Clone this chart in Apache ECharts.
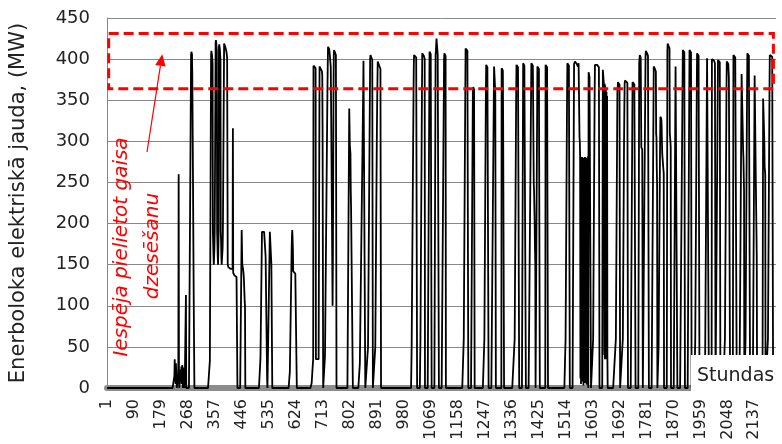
<!DOCTYPE html>
<html>
<head>
<meta charset="utf-8">
<script src="https://cdn.jsdelivr.net/npm/echarts@6/dist/echarts.min.js"></script>
<style>
html,body{margin:0;padding:0;background:#fff;}
#c{width:782px;height:444px;}
</style>
</head>
<body>
<div id="c"></div>
<script>
// Total hours on the axis (92 days x 24 h)
const totalHours = 2208;
// Tick label step (Excel category label interval)
const labelStep = 89;
const yTicks = [0, 50, 100, 150, 200, 250, 300, 350, 400, 450];

// Operating blocks: [first hour, hourly MW values...]; all other hours are 0
const blocksJune = [
  [223, [15,35,8,28,5,30,18,8,0,0,0,0,12,30,260,20,0,0,0,0,0,22,10,26,5,22,28,12,0,0,0,20,25,8,0,0,0,0,113]],
  [278, [405,409,408,406,380,330,270,210,150,95,45]],
  [340, [33,33,33,33, 405,410,408,405,400,395, 190,175,160,150,150,170,190,190,190, 420,423,420,415,410,
         190,175,160,150,150,190, 415,418,415,412,405,400, 190,180,160,150,148,150,170,190,190,190,190,
         419,418,417,416,415,414,412,410,408,405,402,400,
         150,148,147,146,145,145,147,148,146,145,145,146,147,146,145,144,145, 316,
         140,139,139,138,137,137,136,136,135,135,135,135,135,135]],
  [445, [192,190,150,148,146,144,140,135,125,115,105,100]],
  [507, [36,36,36,36,36, 190,191,192,191,190,190,190,190,191,190,190,190, 160,130,100,70,40,10]],
  [538, [190,191,190,189,188,150,100,50]],
  [604, [20,45,70,95,120,145,170,185, 192,190,170, 142,141,140,140,140,140,140,139,138,138,138,138]],
  [676, [6,12,18,24,30,35, 392,393,392,391,391,390,390,389, 35,35,35,35,35,35,35,35,35,35,35,35,
         391,390,390,389,388,388,387,386,385,380, 313,313]]
];
const blocksJuly = [
  [720, [40,80,120,160,200,240,280,320,360,390, 415,417,416,414,412,410,405,400,395,390,
         350,300,250,200,150,100,150,250,350, 405,411,410,409,408,407,406,405,404]],
  [800, [340,338,295,290,285,240,220,218,222,220,219,221]],
  [835, [30,60,90,120,150,180,210,240,270,300,330,360, 398,400,399,398,397,396]],
  [862, [50,100,150,200,250,300,350, 400,405,404,403,402,401,400,399,398]],
  [886, [50,100,150,200,250,300,340,370, 397,396,395,394,393,392,391,390,389,388,388]],
  [1006, [50,100,150,200,250,300,350,390, 405,407,407,406,405,404,403,402,401,400]],
  [1035, [60,120,180,240,300,360, 407,408,407,406,405,404,403,402,400]],
  [1065, [409,409,408,407,406,405,404]],
  [1085, [405,410,418,425,420,415,410,405,405,404,403]],
  [1113, [400,407,407,406,405,404]],
  [1178, [60,120,180,240,300,360, 413,415,414,413,412,411,410,409,408]],
  [1208, [360,366,365,364,363,362]],
  [1246, [60,120,180,240,300,360, 393,393,392,391,390,390,389,388]],
  [1278, [391,391,390,389,360,360]],
  [1303, [389,389,388,387,386,320,320,320]],
  [1346, [60,120,180,240,300,360, 393,393,392,392,391,390,390,389,388]],
  [1374, [395,395,394,393,392,392,391,390,390]],
  [1401, [395,396,395,394,393,392,391,390, 249,240,220,200,170,151]],
  [1421, [391,391,390,390,389,388,388,387]],
  [1448, [393,393,392,391,391,390,389,388]]
];
const blocksAugust = [
  [1514, [60,120,180,240,300,360, 395,395,394,394,393,392,392,391]],
  [1542, [394,395,396,397,397,396,395,395,395,394,393,393,392,391,390,395,394,393, 305,300,
          281,12,280,5,279,25,281,8,278,18,280,3,276,22,279,10,281,6,277,30,280,4,275,15,279,9,282]],
  [1590, [384,384,383,378,378,378,377,376]],
  [1605, [60,120,180,240,300,360, 393,394,394,393,393,392,392,393,394,393,392,391,391,390,390]],
  [1637, [387,387,386,372,372, 40,370,35,368,45,365,38,360,35,355,40]],
  [1680, [60,120,180,240,300,360, 365,372,372,371,370,370,369,368]],
  [1703, [60,120,180,240,300,340, 370,374,375,374,374,373,373,372,372,371,370]],
  [1735, [372,372,371,371,370,370,369,369,368,368]],
  [1757, [395,400,405,404,403,402,400, 293,293,292,290,288]],
  [1778, [405,410,410,409,408,407,406,405,404,403,402]],
  [1805, [391,391,390,389,388,387,386,385, 309,305,268,249]],
  [1821, [50,100,150,200,250,300, 330,329,328,327,320,300,285,280,275,270,265,261]],
  [1850, [410,419,418,417,416,415,414,413, 309,305,300,293]],
  [1877, [391,391,390,390,389,389]],
  [1901, [411,411,410,410,409,408,408]],
  [1923, [411,411,410,409,409,408,407]],
  [1942, [60,120,180,240,300,360, 407,407,406,406,405,404,404,403]],
  [1981, [401,401,400,400,399,399]],
  [1997, [400,400,399,400,401,400,399,398,397,396,395,394]],
  [2017, [399,399,398,398,397,397,396,396]],
  [2040, [60,120,180,240,300,360, 397,397,396,396,395,394,394, 378,378,377,376]],
  [2068, [405,405,404,404,403,403,402,402,401,401,400]],
  [2095, [382,382,381,380,380, 289,280,260,240]],
  [2108, [60,120,180,240,300,360, 407,407,406,406,405,404,404,403,403]],
  [2138, [380,380,379,378, 249,220,190,159]],
  [2166, [352,352,351,350, 300,269,269,260]],
  [2182, [60,120,180,240,300,360, 405,407,407,406,405,405,404,404,403,403,402]]
];
// Annotation: air-cooling band (MW) and its hour span
const bandMW = [364, 431];
const bandHours = [6, 2200];

// ---- build table ----
const hours = [];
const power = [];
for (let h = 1; h <= totalHours; h++) { hours.push(String(h)); power.push(0); }
[blocksJune, blocksJuly, blocksAugust].forEach(list => list.forEach(([start, vals]) => {
  vals.forEach((v, i) => { power[start - 1 + i] = v; });
}));

const FONT = 'DejaVu Sans';
const chart = echarts.init(document.getElementById('c'));
chart.setOption({
  animation: false,
  grid: {left: 100, right: 6, top: 18, bottom: 56},
  xAxis: {
    type: 'category', data: hours, boundaryGap: true, offset: 2,
    axisLine: {lineStyle: {color: '#8c8c8c', width: 6}},
    axisTick: {show: false},
    axisLabel: {interval: labelStep - 1, rotate: 90, fontSize: 16, color: '#222', fontFamily: FONT, margin: 9},
    splitLine: {show: false}
  },
  yAxis: {
    type: 'value', min: yTicks[0], max: yTicks[yTicks.length - 1], interval: 50,
    name: 'Enerboloka elektriskā jauda, (MW)', nameLocation: 'middle', nameGap: 78,
    nameTextStyle: {fontSize: 21, color: '#222', fontFamily: FONT},
    axisLine: {show: true, lineStyle: {color: '#888', width: 1}},
    axisTick: {show: false},
    axisLabel: {fontSize: 18, color: '#222', fontFamily: FONT, margin: 17},
    splitLine: {lineStyle: {color: '#888', width: 1}}
  },
  series: [{
    type: 'line', data: power, showSymbol: false, symbol: 'none',
    lineStyle: {color: '#000', width: 1.8}, z: 2
  }]
});

const yTop = chart.convertToPixel({yAxisIndex: 0}, bandMW[1]);
const yBot = chart.convertToPixel({yAxisIndex: 0}, bandMW[0]);
const xL = chart.convertToPixel({xAxisIndex: 0}, bandHours[0] - 1);
const xR = chart.convertToPixel({xAxisIndex: 0}, bandHours[1] - 1);

chart.setOption({
  graphic: [
    {type: 'rect', z: 50, shape: {x: xL, y: yTop, width: xR - xL, height: yBot - yTop},
     style: {fill: 'none', stroke: '#ff0000', lineWidth: 3, lineDash: [10, 5]}},
    {type: 'line', z: 50, shape: {x1: 147, y1: 152, x2: 160.4, y2: 65.8},
     style: {stroke: '#ff0000', lineWidth: 1.2}},
    {type: 'polygon', z: 50, shape: {points: [[162.3, 54.3], [165.6, 66.6], [155.2, 65.0]]},
     style: {fill: '#ff0000'}},
    {type: 'text', z: 50, x: 122, y: 247, rotation: Math.PI / 2,
     style: {text: 'Iespēja pielietot gaisa', fill: '#ff0000', fontSize: 20, fontStyle: 'italic',
             fontFamily: FONT, textAlign: 'center', textVerticalAlign: 'middle'}},
    {type: 'text', z: 50, x: 153, y: 246, rotation: Math.PI / 2,
     style: {text: 'dzesēšanu', fill: '#ff0000', fontSize: 20, fontStyle: 'italic',
             fontFamily: FONT, textAlign: 'center', textVerticalAlign: 'middle'}},
    {type: 'rect', z: 60, shape: {x: 691, y: 355, width: 91, height: 41}, style: {fill: '#fff'}},
    {type: 'text', z: 61, x: 697, y: 376,
     style: {text: 'Stundas', fill: '#222', fontSize: 19, fontFamily: FONT, textAlign: 'left', textVerticalAlign: 'middle'}}
  ]
});
</script>
</body>
</html>
